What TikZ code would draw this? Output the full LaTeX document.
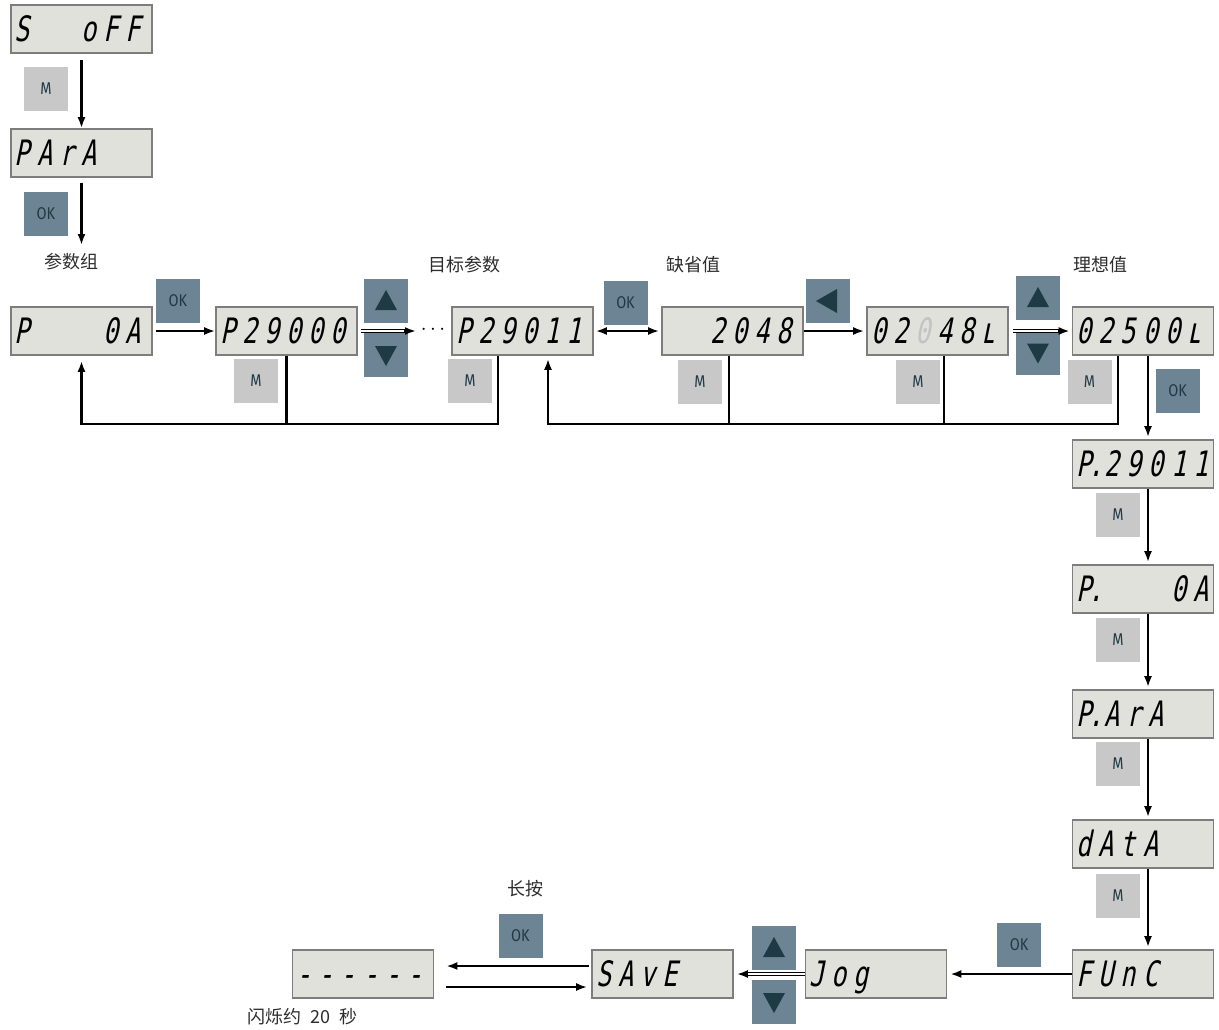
\documentclass[tikz,border=0pt]{standalone}
\usepackage{fontspec}
\usetikzlibrary{arrows.meta,calc}
\newfontfamily\segfont{DejaVu Sans Mono}[FakeSlant=0.2,FakeStretch=0.72]
\newfontfamily\cjkfont{Noto Sans CJK SC}
\newfontfamily\btnfont{Fira Sans}[FakeStretch=0.85]
\definecolor{dispfill}{RGB}{225,225,219}
\definecolor{dispdraw}{RGB}{125,125,125}
\definecolor{okfill}{RGB}{108,132,148}
\definecolor{mfill}{RGB}{200,200,200}
\definecolor{btntext}{RGB}{30,58,68}
\definecolor{dimdigit}{RGB}{195,195,195}
\definecolor{lbltext}{RGB}{45,45,45}
\newcommand\segcell[1]{\makebox[22.2pt][l]{#1}}
\newcommand\segrow[6]{\makebox[133pt][l]{\segfont\fontsize{35}{35}\selectfont\segcell{#1}\segcell{#2}\segcell{#3}\segcell{#4}\segcell{#5}\segcell{#6}}}
\newcommand\segrowP[5]{\makebox[133pt][l]{\segfont\fontsize{35}{35}\selectfont\makebox[28pt][l]{P\kern-3pt.}\segcell{#1}\segcell{#2}\segcell{#3}\segcell{#4}\segcell{#5}}}
\begin{document}
\begin{tikzpicture}[x=1pt,y=-1pt,
  disp/.style={draw=dispdraw, fill=dispfill, line width=1.6pt, minimum width=141pt, minimum height=48pt, inner sep=0pt, text height=25pt, text depth=1pt},
  btnM/.style={fill=mfill, minimum size=44pt, inner sep=0pt, text=btntext, font=\btnfont\fontsize{17}{17}\selectfont},
  btnOK/.style={fill=okfill, minimum size=44pt, inner sep=0pt, text=btntext, font=\btnfont\fontsize{17}{17}\selectfont},
  btnA/.style={fill=okfill, minimum size=44pt, inner sep=0pt},
  tri/.style={fill=btntext},
  lw/.style={line width=2.3pt},
  arr/.style={line width=2.3pt, -{Latex[length=11pt,width=8pt]}},
  barr/.style={line width=2.3pt, {Latex[length=11pt,width=8pt]}-{Latex[length=11pt,width=8pt]}},
  dbl/.style={draw=black, line width=1.4pt, double=white, double distance=1.4pt},
  lbl/.style={text=lbltext, font=\cjkfont\fontsize{18}{18}\selectfont, inner sep=0pt}
]
\useasboundingbox (0,0) rectangle (1219,1029);
\fill[white] (0,0) rectangle (1219,1029);

% display boxes
\node[disp] (soff) at (81.5,29) {\segrow{S}{}{}{o}{F}{F}};
\node[disp] (para) at (81.5,153) {\segrow{P}{A}{r}{A}{}{}};
\node[disp] (p0a) at (81.5,331) {\segrow{P}{}{}{}{0}{A}};
\node[disp] (p29000) at (286.5,331) {\segrow{P}{2}{9}{0}{0}{0}};
\node[disp] (p29011) at (522.5,331) {\segrow{P}{2}{9}{0}{1}{1}};
\node[disp] (d2048) at (732.5,331) {\segrow{}{}{2}{0}{4}{8}};
\node[disp] (d02048) at (937.5,331) {\segrow{0}{2}{\textcolor{dimdigit}{0}}{4}{8}{ʟ}};
\node[disp] (d02500) at (1143,331) {\segrow{0}{2}{5}{0}{0}{ʟ}};
\node[disp] (pd29011) at (1143,464) {\segrowP{2}{9}{0}{1}{1}};
\node[disp] (pd0a) at (1143,589) {\segrowP{}{}{}{0}{A}};
\node[disp] (pdara) at (1143,714) {\segrowP{A}{r}{A}{}{}};
\node[disp] (data) at (1143,844) {\segrow{d}{A}{t}{A}{}{}};
\node[disp] (func) at (1143,974) {\segrow{F}{U}{n}{C}{}{}};
\node[disp] (jog) at (876,974) {\segrow{J}{o}{g}{}{}{}};
\node[disp] (save) at (662.5,974) {\segrow{S}{A}{v}{E}{}{}};
\node[disp] (dashes) at (363,974) {\segrow{-}{-}{-}{-}{-}{-}};

% buttons
\node[btnM] (m1) at (46,89) {M};
\node[btnOK] (ok1) at (46,214) {OK};
\node[btnOK] (ok2) at (178,301) {OK};
\node[btnA] (up1) at (386,301) {};
\node[btnA] (down1) at (386,355) {};
\node[btnM] (m2) at (256,381) {M};
\node[btnM] (m3) at (470,381) {M};
\node[btnOK] (ok3) at (625.5,302.5) {OK};
\node[btnM] (m4) at (700,382) {M};
\node[btnA] (left1) at (828,301) {};
\node[btnM] (m5) at (918,382) {M};
\node[btnA] (up2) at (1038,298) {};
\node[btnA] (down2) at (1038,352.5) {};
\node[btnM] (m6) at (1089.5,382) {M};
\node[btnOK] (ok4) at (1177.5,391) {OK};
\node[btnM] (m7) at (1118,515) {M};
\node[btnM] (m8) at (1118,640) {M};
\node[btnM] (m9) at (1118,764) {M};
\node[btnM] (m10) at (1118,896) {M};
\node[btnOK] (ok5) at (1019,945) {OK};
\node[btnA] (up3) at (774,948) {};
\node[btnA] (down3) at (774,1002) {};
\node[btnOK] (ok6) at (520.5,936) {OK};

% triangles
\foreach \b in {up1,up2,up3}{
  \fill[tri] ($(\b.center)+(-11,9)$) -- ($(\b.center)+(11,9)$) -- ($(\b.center)+(0,-11)$) -- cycle;}
\foreach \b in {down1,down2,down3}{
  \fill[tri] ($(\b.center)+(-11,-9)$) -- ($(\b.center)+(11,-9)$) -- ($(\b.center)+(0,11)$) -- cycle;}
\fill[tri] ($(left1.center)+(9,-12)$) -- ($(left1.center)+(9,12)$) -- ($(left1.center)+(-12,0)$) -- cycle;

% labels
\node[lbl] (l1) at (72,262) {参数组};
\node[lbl] (l2) at (464,265) {目标参数};
\node[lbl] (l3) at (693,265) {缺省值};
\node[lbl] (l4) at (1100,265) {理想值};
\node[lbl] (l5) at (525,889) {长按};
\node[lbl, anchor=west] (l6) at (247,1017) {闪烁约\hspace{0.5em}20\hspace{0.5em}秒};
\node[inner sep=0pt, font=\fontsize{20}{20}\selectfont] (dots) at (433,330) {$\cdots$};
\coordinate (dotsend) at (416,331);
\coordinate (lblarr) at (81.5,245);
\coordinate (loopA) at (0,424);

% connectors: top
\draw[arr, shorten <=6pt] (soff.south) -- (para.north);
\draw[arr, shorten <=5pt] (para.south) -- (lblarr);
\draw[arr, shorten <=3pt] (p0a.east) -- (p29000.west);
\draw[dbl, shorten <=3pt, shorten >=8pt] (p29000.east) -- (dotsend);
\draw[arr] ($(dotsend)+(-12,0)$) -- (dotsend);
\draw[barr, shorten <=2pt, shorten >=2pt] (p29011.east) -- (d2048.west);
\draw[arr, shorten >=2pt] (d2048.east) -- (d02048.west);
\draw[dbl, shorten <=4pt, shorten >=9pt] (d02048.east) -- (d02500.west);
\draw[arr] ($(d02500.west)+(-14,0)$) -- ($(d02500.west)+(-2,0)$);

% return loops
\draw[lw] (p29000.south) -- (p29000.south |- loopA);
\draw[arr] ([xshift=-24.5pt]p29011.south) |- (p0a.south |- loopA) -- ([yshift=-5pt]p0a.south);
\draw[lw] ([xshift=-3.5pt]d2048.south) -- ([xshift=-3.5pt]d2048.south |- loopA);
\draw[lw] ([xshift=6.5pt]d02048.south) -- ([xshift=6.5pt]d02048.south |- loopA);
\draw[arr] ([xshift=-25pt]d02500.south) |- ([xshift=25.5pt]p29011.south |- loopA) -- ([xshift=25.5pt,yshift=-3pt]p29011.south);

% right column
\draw[arr, shorten >=2pt] ([xshift=5pt]d02500.south) -- ([xshift=5pt]pd29011.north);
\draw[arr, shorten >=2pt] ([xshift=5pt]pd29011.south) -- ([xshift=5pt]pd0a.north);
\draw[arr, shorten >=2pt] ([xshift=5pt]pd0a.south) -- ([xshift=5pt]pdara.north);
\draw[arr, shorten >=2pt] ([xshift=5pt]pdara.south) -- ([xshift=5pt]data.north);
\draw[arr, shorten >=2pt] ([xshift=5pt]data.south) -- ([xshift=5pt]func.north);

% bottom row
\draw[arr, shorten >=3pt] (func.west) -- (jog.east);
\draw[dbl, shorten >=10pt] (jog.west) -- (save.east);
\draw[arr] ($(save.east)+(14,0)$) -- ($(save.east)+(3,0)$);
\draw[arr, shorten <=2pt, shorten >=12pt] ([yshift=8pt]save.west) -- ([yshift=8pt]dashes.east);
\draw[arr, shorten <=12pt, shorten >=4pt] ([yshift=-13pt]dashes.east) -- ([yshift=-13pt]save.west);
\end{tikzpicture}
\end{document}
